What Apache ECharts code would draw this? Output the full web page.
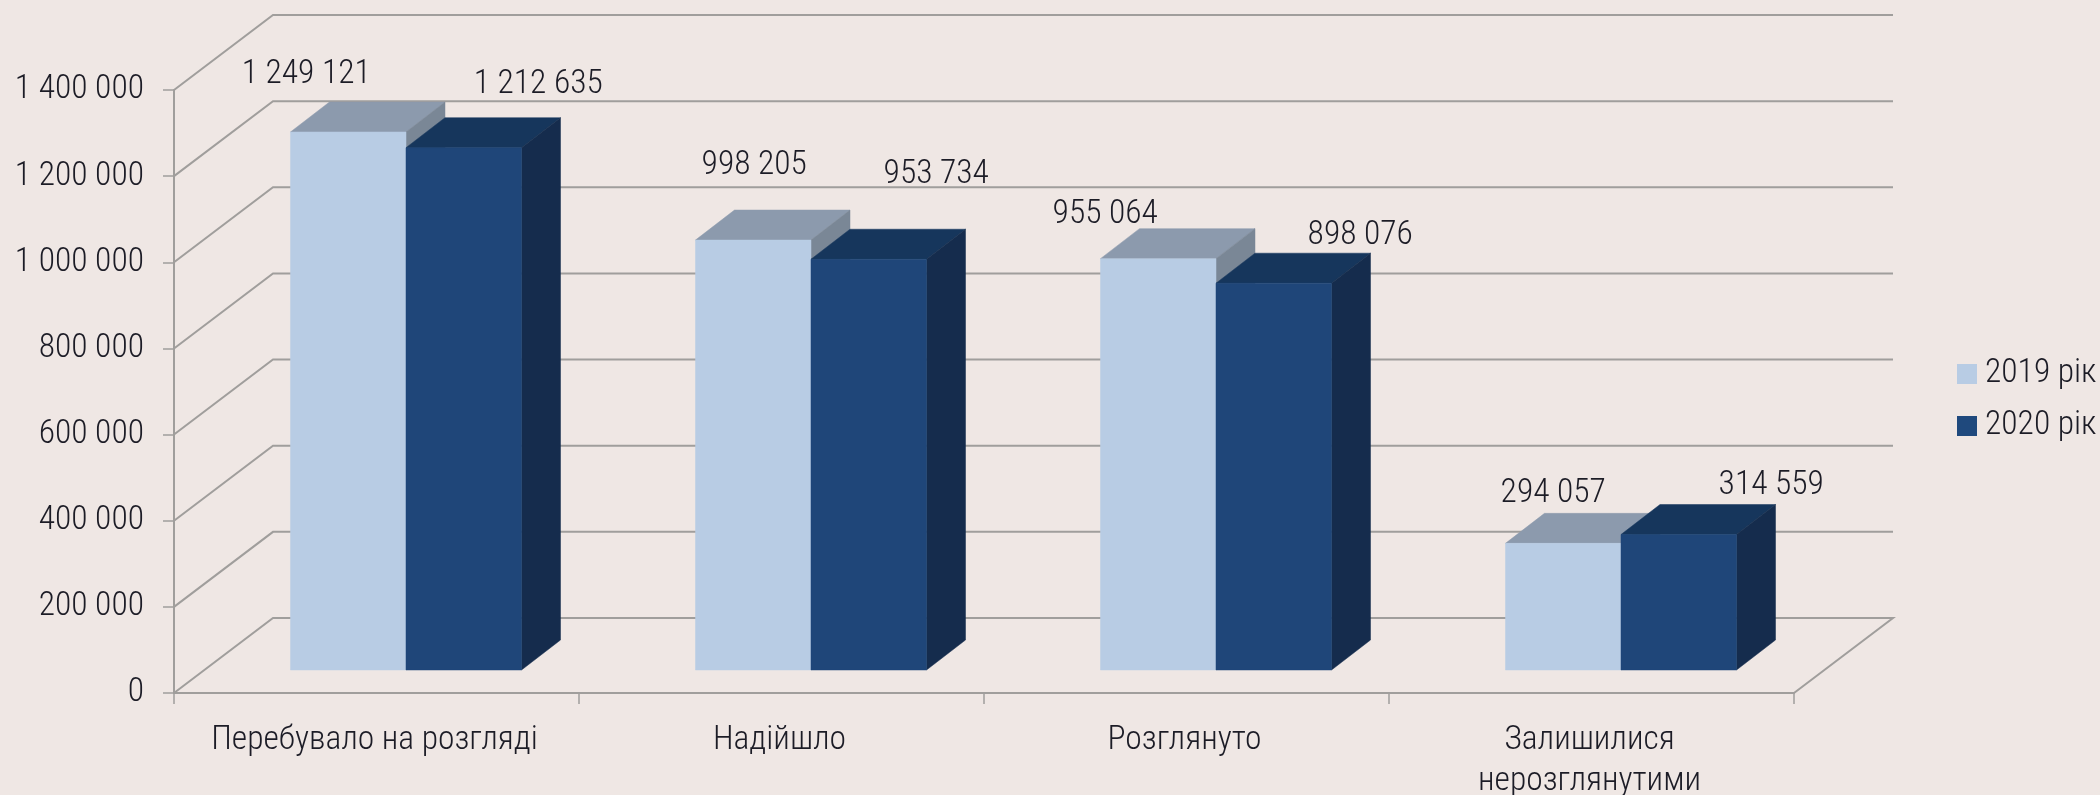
<!DOCTYPE html>
<html><head><meta charset="utf-8">
<style>html,body{margin:0;padding:0;background:#efe7e4}#c{width:2100px;height:795px}</style>
<script src="https://cdn.jsdelivr.net/npm/echarts@6/dist/echarts.min.js"></script>
</head><body><div id="c"></div>
<script>
const categories = ['Перебувало на розгляді', 'Надійшло', 'Розглянуто', 'Залишилися\nнерозглянутими'];
const series2019 = [1249121, 998205, 955064, 294057];
const series2020 = [1212635, 953734, 898076, 314559];
const yTicks = [0, 200000, 400000, 600000, 800000, 1000000, 1200000, 1400000];
const seriesNames = ['2019 рік', '2020 рік'];
// hand-placed data label nudges from the bar's front-top centre
const labelNudge2019 = [[-42, -57], [1, -74], [-53, -44], [-10, -50]];
const labelNudge2020 = [[74.5, -63], [67.5, -85], [86.5, -48], [92.5, -49]];

const FONT = '"Roboto Condensed","Roboto",sans-serif';
const WEIGHT = 300, FS = 33.5;
const TXT = '#1c1c26', LINE = '#a09e9c';
const WALL = [99, -75], INSET = [29.5, -23], DEPTH = [39, -30], BARFRAC = 0.2852;
const fmt = v => String(v).replace(/\B(?=(\d{3})+$)/g, ' ');

function poly(points, fill) {
  return {type: 'polygon', shape: {points}, style: {fill, stroke: fill, lineWidth: 0.5}};
}
function barRenderer(seriesIdx, front, top, side, nudges) {
  return function (params, api) {
    const i = api.value(0), v = api.value(1);
    const w = api.size([1, 0])[0] * BARFRAC;
    const c = api.coord([i, v]), b = api.coord([i, 0]);
    const xL = c[0] + (seriesIdx === 0 ? -w : 0) + INSET[0], xR = xL + w;
    const yT = c[1] + INSET[1], yB = b[1] + INSET[1];
    const n = nudges[i];
    return {type: 'group', children: [
      poly([[xL, yT], [xL + DEPTH[0], yT + DEPTH[1]], [xR + DEPTH[0], yT + DEPTH[1]], [xR, yT]], top),
      poly([[xR, yT], [xR + DEPTH[0], yT + DEPTH[1]], [xR + DEPTH[0], yB + DEPTH[1]], [xR, yB]], side),
      poly([[xL, yT], [xR, yT], [xR, yB], [xL, yB]], front),
      {type: 'text', style: {text: fmt(v), x: (xL + xR) / 2 + n[0], y: yT + n[1],
        align: 'center', verticalAlign: 'middle', font: WEIGHT + ' ' + FS + 'px ' + FONT, fill: TXT}}
    ]};
  };
}
function wallRenderer(params, api) {
  const t = api.value(0), cs = params.coordSys;
  const y = api.coord([0, t])[1];
  const pts = [[cs.x, y], [cs.x + WALL[0], y + WALL[1]], [cs.x + cs.width + WALL[0], y + WALL[1]]];
  if (t === 0) pts.push([cs.x + cs.width, y]);
  return {type: 'polyline', shape: {points: pts}, style: {fill: 'none', stroke: LINE, lineWidth: 2}};
}

const chart = echarts.init(document.getElementById('c'), null, {renderer: 'canvas'});
chart.setOption({
  animation: false,
  backgroundColor: '#efe7e4',
  grid: {left: 174, right: 306, top: 90, bottom: 102, outerBoundsMode: 'none'},
  legend: {
    orient: 'vertical', left: 1957, top: 354, padding: 0, itemWidth: 20, itemHeight: 20, itemGap: 12,
    itemStyle: {borderWidth: 0}, icon: 'rect', data: seriesNames,
    textStyle: {fontFamily: FONT, fontWeight: WEIGHT, fontSize: FS, lineHeight: 40, color: TXT, padding: [0, 0, 0, 3]}
  },
  xAxis: {
    type: 'category', data: categories,
    axisLine: {lineStyle: {color: LINE, width: 2}},
    axisTick: {show: true, length: 11, lineStyle: {color: LINE, width: 1.5}},
    axisLabel: {fontFamily: FONT, fontWeight: WEIGHT, fontSize: FS, color: TXT, margin: 27, lineHeight: 41, interval: 0, padding: [0, 4, 0, 0]},
    splitLine: {show: false}
  },
  yAxis: {
    type: 'value', min: 0, max: 1400000, interval: 200000,
    axisLine: {show: true, lineStyle: {color: LINE, width: 2}},
    axisTick: {show: true, length: 11, lineStyle: {color: LINE, width: 1.5}},
    axisLabel: {fontFamily: FONT, fontWeight: WEIGHT, fontSize: FS, color: TXT, margin: 30, padding: [6, 0, 0, 0], formatter: v => fmt(v)},
    splitLine: {show: false}
  },
  series: [
    {type: 'custom', name: 'walls', z: 1, silent: true, coordinateSystem: 'cartesian2d',
      data: yTicks.map(t => [t]), encode: {y: 0}, renderItem: wallRenderer},
    {type: 'custom', name: seriesNames[0], z: 2, itemStyle: {color: '#b8cce4'},
      data: series2019.map((v, i) => [i, v]), encode: {x: 0, y: 1},
      renderItem: barRenderer(0, '#b8cce4', '#8c9aad', '#7a8796', labelNudge2019)},
    {type: 'custom', name: seriesNames[1], z: 3, itemStyle: {color: '#1f497d'},
      data: series2020.map((v, i) => [i, v]), encode: {x: 0, y: 1},
      renderItem: barRenderer(1, '#1f4679', '#16365c', '#152c4d', labelNudge2020)}
  ]
});
</script></body></html>
